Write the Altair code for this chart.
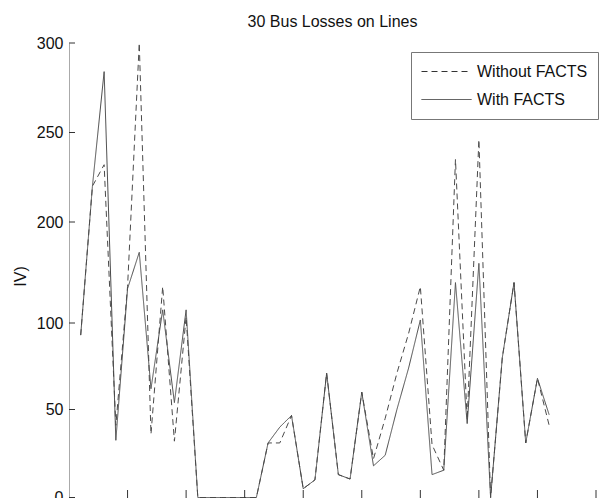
import altair as alt
import pandas as pd

# ---- data ----
line_no = list(range(1, 42))
without_facts = [93, 220, 232, 41, 136, 300, 36, 136, 32, 106, 0, 0, 0, 0, 0, 0,
                 31, 31, 46.6, 5, 10, 71, 13, 10.5, 60, 22, 45, 71, 94, 136, 30,
                 15.5, 235, 44, 246, 0, 80, 140, 31, 68, 41]
with_facts = [93, 220, 284, 32.5, 134, 170, 62, 113, 54, 113, 0, 0, 0, 0, 0, 0,
              31, 40, 46.6, 5, 10, 71, 13, 10.5, 60, 18, 24, 50, 74, 103, 13,
              15.5, 140, 42, 159, 0, 80, 140, 31, 68, 47]
series_names = ["Without FACTS", "With FACTS"]
y_ticks = [0, 50, 100, 200, 250, 300]
x_ticks = [5, 10, 15, 20, 25, 30, 35, 40, 45]

df = pd.DataFrame({
    "line": line_no * 2,
    "loss": without_facts + with_facts,
    "series": [series_names[0]] * len(line_no) + [series_names[1]] * len(line_no),
})
df_y = pd.DataFrame({"v": y_ticks})
df_x = pd.DataFrame({"v": x_ticks})

W, H = 527, 455
FONT = "Liberation Sans"
FS = 16

xscale = alt.Scale(domain=[0, 45], nice=False, zero=False)
yscale = alt.Scale(domain=y_ticks, range=[454.5, 366.5, 280, 179, 89.5, 0],
                   nice=False, zero=False)

lines = alt.Chart(df).mark_line(strokeWidth=1, color="#4a4a4a").encode(
    x=alt.X("line:Q", scale=xscale, axis=None),
    y=alt.Y("loss:Q", scale=yscale,
            axis=alt.Axis(values=y_ticks, ticks=False, grid=False,
                          domainColor="#aaaaaa", labelFont=FONT, labelFontSize=FS,
                          labelColor="#111", labelPadding=6,
                          title="IV)", titleFont=FONT, titleFontSize=FS,
                          titleFontWeight="normal", titleColor="#111",
                          titleAngle=270, titleX=-49, titleY=233,
                          titleAlign="center", titleBaseline="middle")),
    strokeDash=alt.StrokeDash(
        "series:N",
        scale=alt.Scale(domain=series_names, range=[[6, 4], [1, 0]]),
        legend=alt.Legend(title=None, orient="none", legendX=342, legendY=9,
                          symbolType="stroke", symbolSize=2500,
                          symbolStrokeWidth=1, symbolStrokeColor="#333",
                          labelFont=FONT, labelFontSize=FS, labelColor="#111",
                          labelOffset=5, padding=10, clipHeight=19, rowPadding=9,
                          strokeColor="#777", fillColor="white"),
    ),
)

yt = alt.Chart(df_y).mark_rule(color="#333", strokeWidth=1).encode(
    y=alt.Y("v:Q", scale=yscale),
    x=alt.value(0),
    x2=alt.value(6),
)

xt = alt.Chart(df_x).mark_rule(color="#333", strokeWidth=1).encode(
    x=alt.X("v:Q", scale=xscale, axis=None),
    y=alt.value(H),
    y2=alt.value(H - 8),
)

chart = alt.layer(lines, yt, xt).properties(
    width=W, height=H,
    background="white",
    title=alt.TitleParams("30 Bus Losses on Lines", font=FONT, fontSize=FS,
                          fontWeight="normal", color="#111", anchor="middle",
                          frame="group", baseline="alphabetic", offset=16, dy=24),
    autosize=alt.AutoSizeParams(type="none"),
    padding={"left": 69, "top": 43, "right": 10, "bottom": 0},
).configure_view(stroke=None)

chart.save("out.html", embed_options={"renderer": "svg", "actions": False})
